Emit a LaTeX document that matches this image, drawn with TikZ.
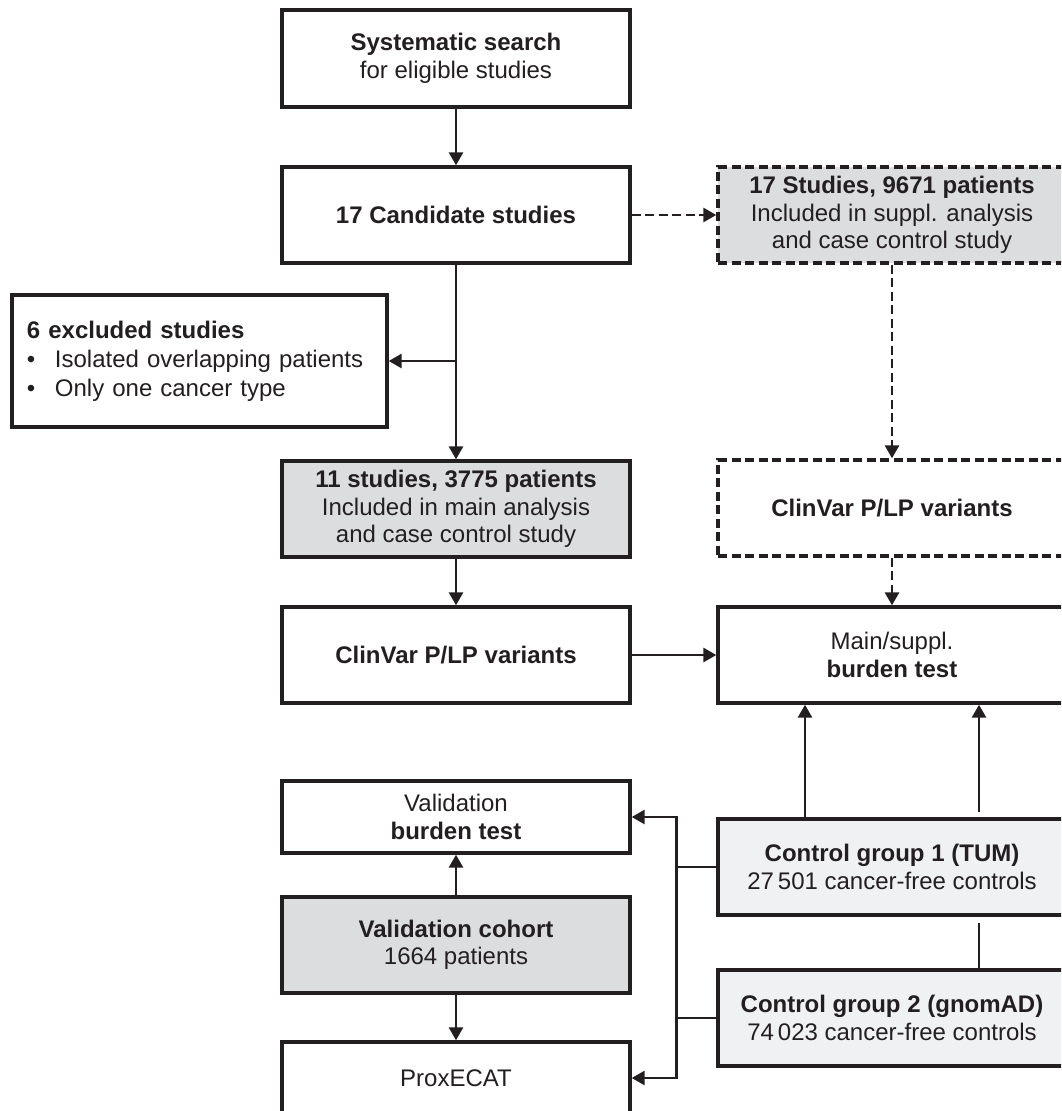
\documentclass[tikz,border=0pt]{standalone}
\usepackage{fontspec}
\setmainfont{Liberation Sans}
\usetikzlibrary{arrows.meta}
\definecolor{ink}{HTML}{231F20}
\definecolor{boxgray}{HTML}{DCDDDF}
\definecolor{boxlight}{HTML}{F0F1F3}
\begin{document}
\begin{tikzpicture}[x=1pt,y=-1pt,
  box/.style={draw=ink, line width=3.4pt, rectangle, minimum width=348pt, minimum height=96pt,
    align=center, inner sep=0pt, font=\fontsize{24}{27.5}\selectfont, text=ink, fill=white},
  grayfill/.style={fill=boxgray},
  lightfill/.style={fill=boxlight},
  dashbox/.style={dash pattern=on 9pt off 4.5pt},
  conn/.style={draw=ink, line width=2.9pt},
  arr/.style={conn, -{Triangle[length=13pt,width=14pt]}},
  darr/.style={arr, dash pattern=on 9pt off 4.5pt},
]
\path[use as bounding box] (0,0) rectangle (1061,1111);
\clip (0,0) rectangle (1061,1111);
\fill[white] (0,0) rectangle (1061,1111);

\node[box, minimum height=97pt] (search) at (456,58.5) {\textbf{Systematic search}\\for eligible studies};
\node[box] (cand) at (456,215) {\textbf{17 Candidate studies}};
\node[box, grayfill, dashbox] (s17) at (892,215) {\textbf{17 Studies, 9671 patients}\\Included in suppl. analysis\\and case control study};
\node[box, minimum width=375pt, minimum height=132pt, align=left, text width=345pt, inner xsep=15pt,
  font=\fontsize{24}{29}\selectfont] (excl) at (199.5,361)
  {\textbf{6 excluded studies}\\\makebox[28pt][l]{•}Isolated overlapping patients\\\makebox[28pt][l]{•}Only one cancer type};
\node[box, grayfill] (s11) at (456,509) {\textbf{11 studies, 3775 patients}\\Included in main analysis\\and case control study};
\node[box, dashbox] (cvR) at (892,508) {\textbf{ClinVar P/LP variants}};
\node[box] (cvL) at (456,655) {\textbf{ClinVar P/LP variants}};
\node[box] (main) at (892,655) {Main/suppl.\\\textbf{burden test}};
\node[box, minimum height=72pt] (valbt) at (456,817) {Validation\\\textbf{burden test}};
\node[box, grayfill] (valco) at (456,945) {\textbf{Validation cohort}\\1664 patients};
\node[box, lightfill] (cg2) at (892,1018) {\textbf{Control group 2 (gnomAD)}\\74\,023 cancer-free controls};
\node[box, minimum height=72pt] (prox) at (456,1078) {ProxECAT};

\draw[arr] (search.south) -- (cand.north);
\draw[darr] (cand.east) -- (s17.west);
\draw[darr] (s17.south) -- (cvR.north);
\draw[darr] (cvR.south) -- (main.north);
\draw[arr] (cand.south) -- (s11.north);
\draw[arr] (cand.south |- excl.east) -- (excl.east);
\draw[arr] (s11.south) -- (cvL.north);
\draw[arr] (cvL.east) -- (main.west);
\draw[arr] ([xshift=87pt]cg2.north) -- ([xshift=87pt]main.south);

\node[box, lightfill, preaction={draw=white, line width=15pt}] (cg1) at (892,867)
  {\textbf{Control group 1 (TUM)}\\27\,501 cancer-free controls};
\draw[arr] ([xshift=-87pt]cg1.north) -- ([xshift=-87pt]main.south);

\path (valbt.east) ++(45,0) coordinate (bt);
\path (prox.east) ++(45,0) coordinate (bb);
\draw[conn] (cg1.west) -- (cg1.west -| bt);
\draw[conn] (cg2.west) -- (cg2.west -| bt);
\draw[arr] (cg2.west -| bt) -- (bt) -- (valbt.east);
\draw[arr] (cg1.west -| bt) -- (bb) -- (prox.east);
\draw[arr] (valco.north) -- (valbt.south);
\draw[arr] (valco.south) -- (prox.north);
\end{tikzpicture}
\end{document}
